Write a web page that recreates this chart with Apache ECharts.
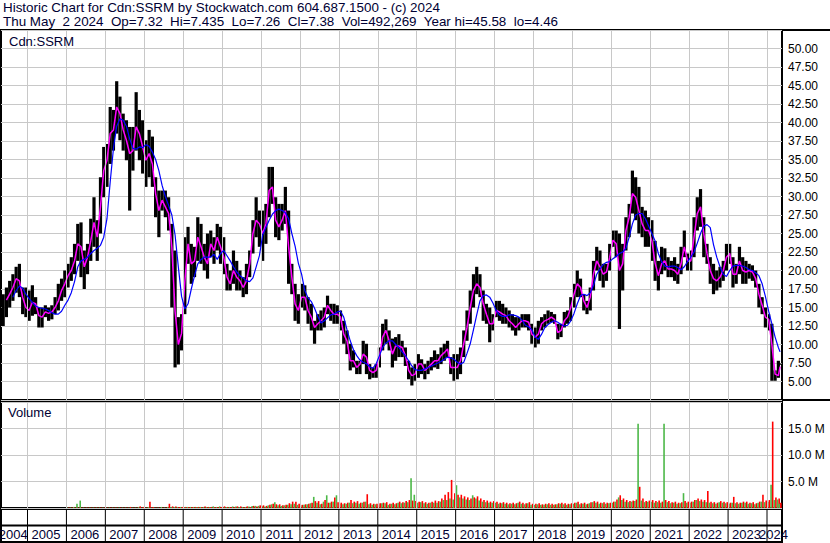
<!DOCTYPE html>
<html><head><meta charset="utf-8">
<script src="https://cdn.jsdelivr.net/npm/echarts@6/dist/echarts.min.js"></script>
<style>html,body{margin:0;padding:0;background:#fff}#c{width:830px;height:543px}#c svg text,#c svg tspan{white-space:pre}</style>
</head><body><div id="c"></div>
<script>
// ---- data (monthly, starting May 2004) ----
const startYear = 2004, startMonth = 5;
const years = [2004,2005,2006,2007,2008,2009,2010,2011,2012,2013,2014,2015,2016,2017,2018,2019,2020,2021,2022,2023,2024];
const high = [
 16.8,17.7,18.6,19.5,20.5,20.9,17.7,17.7,
 17.3,18.0,16.4,15.0,15.0,15.3,15.0,15.3,16.4,18.2,18.9,20.0,
 20.9,21.8,23.6,26.3,26.5,22.7,23.6,27.0,29.9,26.8,32.6,36.7,
 37.1,42.1,41.7,45.58,43.5,41.2,40.3,39.4,39.4,44.1,41.7,40.3,
 37.6,39.0,38.1,32.6,30.8,30.8,30.8,29.9,26.3,22.7,13.7,14.1,
 24.5,25.9,23.6,23.2,27.2,26.3,23.6,25.0,25.4,24.5,26.3,25.9,
 24.5,20.9,20.0,22.7,21.3,20.0,19.1,20.9,22.7,26.8,29.9,28.1,
 28.1,29.0,34.0,34.0,29.9,29.0,29.0,31.3,28.1,20.9,18.2,16.8,
 18.2,18.0,16.4,15.5,13.2,14.1,14.6,15.0,16.6,15.5,15.5,15.3,
 14.6,13.2,11.9,10.1,9.2,7.8,7.8,10.5,10.1,7.35,6.9,7.35,
 9.6,12.8,13.4,11.9,10.8,11.0,11.4,10.5,9.6,7.8,6.9,7.35,
 8.7,8.0,7.35,7.8,8.3,9.2,8.7,9.6,10.1,10.5,8.3,8.7,
 8.7,9.6,11.9,14.6,17.3,19.5,20.5,19.5,17.3,15.5,15.0,14.1,
 15.9,15.9,15.5,15.0,14.6,14.1,13.7,13.7,14.1,14.1,14.1,12.8,
 12.3,13.2,13.7,14.1,14.6,14.4,14.1,12.8,12.8,14.4,14.6,16.4,
 18.2,20.0,18.9,16.8,15.9,17.7,21.3,23.2,22.7,20.9,20.9,23.6,
 25.4,25.4,25.0,23.6,27.2,29.0,33.5,32.6,31.3,28.6,28.1,27.2,
 26.8,24.0,21.3,23.2,23.0,21.8,21.3,21.8,20.9,23.2,25.4,22.3,
 22.7,27.2,29.9,31.0,27.2,23.6,21.8,20.9,20.0,20.5,21.3,23.6,
 23.6,21.8,20.9,23.2,21.8,21.3,20.9,20.7,20.0,18.2,16.4,15.0,
 14.1,12.8,6.5,7.8,7.435
];
const low = [
 12.5,13.7,15.0,15.9,17.0,16.4,14.1,13.7,
 13.2,13.9,14.1,12.3,12.3,13.7,13.2,13.4,14.1,14.6,15.9,16.4,
 17.7,18.6,19.5,21.3,19.1,17.5,19.5,21.3,23.2,21.3,25.0,29.9,
 31.3,34.4,36.2,38.5,37.6,36.2,34.9,28.1,33.5,36.2,34.9,33.1,
 31.3,32.6,31.3,27.2,24.5,28.1,27.2,25.4,15.0,6.9,7.3,9.2,
 14.1,20.9,18.2,19.1,21.3,20.9,20.0,18.9,21.8,20.9,22.7,20.9,
 19.5,17.3,17.3,18.2,17.3,17.3,16.4,16.8,19.1,22.3,24.5,23.2,
 21.3,23.6,27.2,29.0,24.5,24.1,25.4,26.3,18.2,16.8,13.2,12.8,
 15.0,14.6,12.8,11.9,10.1,11.9,11.9,12.3,14.1,13.2,12.8,12.8,
 11.9,10.1,8.7,6.5,6.9,6.0,6.0,7.35,6.0,5.3,5.5,5.5,
 6.9,9.2,10.1,9.2,6.9,7.8,8.3,8.3,7.1,5.3,4.46,5.1,
 5.5,6.0,5.3,6.0,6.5,6.9,6.7,7.35,7.8,8.3,6.0,5.1,
 5.3,6.0,8.3,10.5,12.8,15.0,16.8,16.4,13.2,12.8,10.3,11.9,
 13.7,13.2,12.8,12.8,12.3,11.9,11.2,11.9,12.3,12.3,11.9,10.1,
 9.6,10.1,11.9,12.3,12.8,13.0,12.8,10.7,11.0,12.3,12.8,13.2,
 15.0,16.4,16.4,14.6,14.1,14.6,17.3,20.0,18.6,17.7,18.6,20.0,
 23.2,21.8,12.1,17.3,22.7,24.5,27.7,26.8,25.0,24.5,23.2,23.2,
 21.3,18.6,17.3,19.5,20.0,19.1,19.1,18.6,18.2,19.5,21.8,20.0,
 20.0,21.8,25.4,25.9,21.8,20.9,18.2,16.8,17.3,17.7,18.6,20.0,
 20.9,17.7,18.2,19.5,18.2,18.2,18.9,18.6,17.7,15.0,14.1,12.3,
 11.9,5.1,5.1,5.5,7.26
];
const maShort = [
 null,16.0,16.8,17.7,18.9,18.6,16.4,15.0,
 14.6,15.7,15.5,13.9,13.7,14.4,14.2,14.4,15.0,15.9,17.3,18.2,
 19.3,20.0,21.3,23.6,23.2,20.5,21.8,24.0,26.5,24.5,28.6,33.5,
 34.9,38.5,39.0,42.1,41.2,39.0,37.6,35.8,36.2,39.4,38.5,36.7,
 34.9,35.8,34.4,30.4,28.1,29.5,28.6,27.7,23.2,14.5,10.0,11.5,
 18.5,23.6,20.9,21.3,24.5,23.2,21.8,20.9,23.6,22.7,24.5,23.2,
 21.8,19.1,18.2,20.0,19.1,18.6,17.7,18.6,20.9,25.0,26.8,26.3,
 25.0,26.3,30.8,31.3,26.8,25.9,26.8,28.1,23.2,19.1,15.5,14.6,
 16.4,16.4,14.6,13.7,12.3,12.8,13.2,13.7,15.3,14.6,14.1,14.1,
 13.7,11.4,10.5,7.8,7.8,6.9,7.35,8.7,8.3,6.5,6.2,6.5,
 8.3,11.0,11.9,10.5,8.7,9.8,9.8,9.6,8.5,6.5,5.8,6.0,
 7.35,7.35,6.5,6.9,7.35,7.8,7.8,8.5,8.9,9.4,6.9,6.9,
 6.9,7.8,10.1,12.3,15.0,17.3,18.2,17.7,15.5,14.1,12.8,12.8,
 14.6,14.4,14.1,13.9,13.2,12.8,12.3,12.8,13.2,13.2,13.0,11.4,
 11.0,11.4,12.8,13.2,13.4,13.7,13.4,11.6,11.9,13.2,13.7,15.0,
 16.8,18.2,17.7,15.9,15.0,16.4,19.5,21.3,20.5,19.5,19.8,21.8,
 24.1,23.6,20.0,20.9,25.4,27.2,30.4,29.9,28.1,26.3,25.4,25.4,
 24.0,21.0,19.3,20.9,21.3,20.2,20.2,20.0,19.5,20.9,23.2,21.3,
 21.3,24.5,27.7,28.6,25.0,22.3,20.0,18.9,18.6,19.1,20.0,21.8,
 22.3,19.5,19.5,21.3,20.0,19.8,20.0,19.8,18.9,16.8,15.3,13.7,
 13.4,10.0,6.0,5.8,7.0
];
const maLong = [
 null,null,null,16.4,17.3,17.9,17.6,16.8,
 16.2,15.7,15.2,15.0,14.9,14.8,14.6,14.3,14.1,14.1,14.5,15.3,
 16.0,17.0,18.5,20.5,21.3,21.5,21.8,22.3,22.7,23.0,23.4,24.5,
 27.0,32.0,36.5,39.5,40.5,40.3,39.5,37.8,36.5,36.4,36.7,36.6,
 37.0,36.8,36.0,35.0,33.5,31.5,30.0,28.8,27.5,24.8,20.5,16.5,
 14.8,15.5,17.5,19.3,20.9,21.5,21.8,21.8,21.8,22.2,21.5,22.3,
 22.7,22.0,21.3,20.5,19.8,19.3,19.0,18.6,18.5,19.0,20.5,22.0,
 24.8,25.8,26.8,27.6,28.1,28.3,28.1,27.8,27.0,25.0,23.3,21.0,
 19.5,17.3,16.3,15.8,14.9,13.8,12.9,13.2,13.6,14.0,14.1,14.4,
 14.5,13.7,12.0,10.5,9.3,8.5,7.9,7.6,7.4,7.0,6.8,7.4,
 8.5,9.6,10.2,10.5,10.5,10.0,9.6,9.0,8.5,7.8,7.1,6.6,
 6.5,6.5,6.7,6.9,7.1,7.3,7.5,7.7,8.0,8.3,8.2,8.0,
 7.6,7.35,7.6,8.8,10.1,12.0,14.0,15.9,16.6,16.7,16.4,15.6,
 14.6,14.0,13.8,13.8,14.0,14.0,13.9,13.7,13.3,12.6,12.4,12.0,
 11.0,10.7,11.4,12.3,12.7,13.0,13.2,13.0,12.7,12.5,12.6,13.2,
 14.2,15.5,16.6,16.8,16.6,17.0,18.0,19.5,20.2,20.8,21.1,21.2,
 21.6,21.9,22.3,22.5,23.0,24.5,26.3,27.5,27.7,27.7,27.0,26.0,
 25.0,24.0,22.3,21.2,20.6,20.5,20.6,20.6,20.4,20.1,20.5,21.2,
 21.8,22.5,23.7,25.0,26.0,26.2,25.8,23.5,21.8,20.5,19.5,19.2,
 20.0,20.6,20.7,20.7,20.6,20.4,20.1,20.0,19.7,19.3,18.2,16.5,
 14.5,12.8,11.0,9.6,9.0
];
// volume in millions: largest up-day (green) and down-day (red) volume per month
const volUp = [
 0,0,0,0,0,0,0,0,
 0,0,0,0,0,0,0,0,0,0,0,0,
 0.1,0.1,0.2,0.8,1.4,0.1,0.1,0.1,0.1,0.1,0.1,0.1,
 0.1,0.1,0.1,0.1,0.1,0.1,0.1,0.1,0.1,0.1,0.2,0.1,
 0.1,0.2,0.1,0.1,0.1,0.2,0.1,0.2,0.2,0.2,0.2,0.2,
 0.2,0.2,0.2,0.2,0.2,0.2,0.2,0.2,0.2,0.3,0.2,0.3,
 0.2,0.2,0.2,0.3,0.3,0.2,0.2,0.2,0.3,0.4,0.4,0.4,
 0.4,0.3,0.5,0.7,1.1,0.5,0.4,0.5,0.6,0.7,0.8,0.6,
 0.5,0.6,0.7,0.9,2.1,1.0,0.7,1.2,2.4,1.0,1.2,2.4,
 0.8,0.7,0.8,1.0,0.9,1.0,0.8,1.0,1.2,0.7,0.6,0.7,
 0.7,0.9,0.9,0.6,0.8,0.7,1.0,0.9,1.0,1.1,5.6,2.5,
 1.0,1.1,0.9,0.8,1.0,1.0,1.0,1.2,1.5,1.5,1.8,1.6,
 4.3,2.0,1.8,1.6,1.5,2.4,1.8,1.4,1.2,1.1,1.0,1.0,
 1.0,0.8,0.9,0.8,0.7,0.8,0.7,1.0,0.8,0.7,0.9,0.6,
 0.6,0.7,0.6,0.6,0.7,0.6,0.6,0.7,0.8,0.7,0.6,0.7,
 0.8,1.0,0.7,0.8,0.7,0.9,1.1,1.0,0.8,0.9,0.8,0.9,
 1.0,1.2,2.0,1.5,1.2,1.1,1.2,1.3,15.9,1.4,1.1,1.2,
 1.2,1.0,1.1,1.0,15.9,1.1,0.9,1.0,0.8,0.9,2.8,1.0,
 1.0,1.2,1.5,1.3,1.2,1.1,1.0,0.9,0.8,1.1,1.0,0.9,
 0.8,1.0,0.9,0.8,1.0,1.0,0.8,0.9,0.7,1.0,1.2,1.1,
 1.2,4.4,1.5,1.6,0.8
];
const volDown = [
 0,0,0,0,0,0,0,0,
 0,0,0,0,0,0,0,0,0,0,0,0,
 0.1,0.1,0.1,0.1,0.1,0.1,0.1,0.1,0.1,0.1,0.1,0.1,
 0.1,0.1,0.1,0.1,0.1,0.1,0.1,0.2,0.1,0.1,0.3,0.2,
 0.1,1.2,0.2,0.1,0.1,0.1,0.1,0.8,0.3,0.3,0.2,0.2,
 0.2,0.2,0.2,0.2,0.2,0.2,0.3,0.2,0.2,0.2,0.2,0.2,
 0.3,0.2,0.2,0.2,0.3,0.3,0.2,0.3,0.2,0.4,0.3,0.5,
 0.5,0.4,0.6,0.8,0.7,0.7,0.5,0.6,0.9,1.2,1.2,0.8,
 0.6,0.7,0.8,1.0,1.3,1.3,0.8,1.5,1.0,1.2,2.0,1.1,
 1.0,0.9,1.0,1.5,1.2,1.3,1.0,1.2,2.6,0.9,0.8,0.8,
 0.9,1.0,1.1,0.8,1.0,0.9,1.2,1.1,1.3,1.5,1.4,1.3,
 1.2,1.3,1.1,1.0,1.2,1.4,1.3,1.8,2.5,3.0,5.3,2.8,
 2.5,2.5,2.2,2.0,1.8,2.0,2.2,1.8,1.5,1.4,1.2,1.3,
 1.2,1.0,1.1,1.0,0.9,1.0,0.9,1.2,1.0,0.9,1.1,0.8,
 0.8,0.9,0.7,0.8,0.9,0.8,0.7,0.9,1.0,0.9,0.8,0.9,
 1.0,1.2,0.9,1.0,0.8,1.1,1.3,1.2,1.0,1.1,1.0,1.0,
 1.2,1.6,2.4,1.8,1.5,1.3,1.4,1.6,4.0,1.8,1.3,1.4,
 1.5,1.3,1.4,1.2,1.5,1.3,1.1,1.2,1.0,1.1,1.3,1.2,
 1.2,1.5,1.8,1.6,1.5,3.2,1.2,1.1,1.0,1.3,1.2,1.1,
 1.0,2.1,1.1,1.0,1.2,1.2,1.0,1.1,0.9,1.2,2.5,1.4,
 1.5,16.3,2.0,1.8,1.0
];
const priceTicks = {min: 2.5, max: 52.5, step: 2.5};
const volTicks = {min: 0, max: 20, step: 5};
const headerLine1 = 'Historic Chart for Cdn:SSRM by Stockwatch.com 604.687.1500 - (c) 2024';
const headerLine2 = 'Thu May  2 2024  Op=7.32  Hi=7.435  Lo=7.26  Cl=7.38  Vol=492,269  Year hi=45.58  lo=4.46';
const symbolLabel = 'Cdn:SSRM';
const volumeLabel = 'Volume';

// ---- build ----
const XMIN = 2004.319, XMAX = 2024.385, DATA_END = 2024.335;
const mx = high.map((_, i) => Math.min(startYear + (startMonth - 1 + i + 0.5) / 12, DATA_END));
const FONT = "'Liberation Sans', Arial, sans-serif";
const GRID_C = '#c8c8c8';

const chart = echarts.init(document.getElementById('c'), null, {renderer: 'svg'});
const xAx = (gi) => ({type: 'value', gridIndex: gi, min: XMIN, max: XMAX, show: false, splitLine: {show: false}});
const yearLines = years.filter(y => y > XMIN && y < XMAX).map(y => ({xAxis: y}));
const vMark = {silent: true, symbol: ['none', 'none'], label: {show: false}, animation: false,
  lineStyle: {color: GRID_C, type: 'solid', width: 1}, emphasis: {disabled: true}, data: yearLines};

const option = {
  animation: false,
  backgroundColor: '#fff',
  grid: [
    {left: 1, right: 48, top: 30, height: 370, show: true, borderColor: '#000', borderWidth: 2, backgroundColor: 'transparent'},
    {left: 1, right: 48, top: 402, height: 106, show: true, borderColor: '#000', borderWidth: 2, backgroundColor: 'transparent'},
    {left: 1, right: 48, top: 509, height: 33, show: true, borderColor: '#000', borderWidth: 2, backgroundColor: 'transparent'}
  ],
  xAxis: [xAx(0), xAx(1), xAx(2)],
  yAxis: [
    {type: 'value', gridIndex: 0, position: 'right', min: priceTicks.min, max: priceTicks.max, interval: priceTicks.step,
     axisLine: {show: false}, axisTick: {show: false},
     splitLine: {show: true, lineStyle: {color: GRID_C, width: 1}},
     axisLabel: {showMinLabel: false, showMaxLabel: false, margin: 6, color: '#000', fontSize: 12, fontFamily: FONT,
       formatter: v => v.toFixed(2)}},
    {type: 'value', gridIndex: 1, position: 'right', min: volTicks.min, max: volTicks.max, interval: volTicks.step,
     axisLine: {show: false}, axisTick: {show: false},
     splitLine: {show: true, lineStyle: {color: GRID_C, width: 1}},
     axisLabel: {showMinLabel: false, showMaxLabel: false, margin: 6, color: '#000', fontSize: 12, fontFamily: FONT,
       formatter: v => v.toFixed(1) + ' M'}},
    {type: 'value', gridIndex: 2, min: 0, max: 2, show: false, splitLine: {show: false}}
  ],
  graphic: [
    {type: 'text', left: 3, top: 1, style: {text: headerLine1, font: '13.4px ' + FONT, fill: '#000033'}},
    {type: 'text', left: 3, top: 15, style: {text: headerLine2, font: '13.4px ' + FONT, fill: '#000033'}},
    {type: 'text', left: 9, top: 35, z: 10, style: {text: symbolLabel, font: '13px ' + FONT, fill: '#000033'}},
    {type: 'text', left: 8, top: 406, z: 10, style: {text: volumeLabel, font: '13px ' + FONT, fill: '#000033'}},
    {type: 'line', shape: {x1: 782, y1: 30, x2: 830, y2: 30}, style: {stroke: '#000', lineWidth: 2}},
    {type: 'line', shape: {x1: 782, y1: 400, x2: 830, y2: 400}, style: {stroke: '#000', lineWidth: 2}}
  ],
  series: [
    {type: 'line', xAxisIndex: 0, yAxisIndex: 0, data: [], z: 1, markLine: vMark, silent: true},
    {type: 'line', xAxisIndex: 1, yAxisIndex: 1, data: [], z: 1, markLine: vMark, silent: true},
    {type: 'custom', name: 'price', xAxisIndex: 0, yAxisIndex: 0, z: 3, silent: true,
     data: mx.map((x, i) => [x, low[i], high[i]]),
     encode: {x: 0, y: [1, 2]},
     renderItem: (params, api) => {
       const p1 = api.coord([api.value(0), api.value(2)]);
       const p2 = api.coord([api.value(0), api.value(1)]);
       return {type: 'rect', shape: {x: p1[0] - 1.6, y: p1[1], width: 3.2, height: Math.max(1, p2[1] - p1[1])},
               style: {fill: '#000'}};
     }},
    {type: 'line', name: 'MA short', xAxisIndex: 0, yAxisIndex: 0, z: 4, silent: true, showSymbol: false,
     data: mx.map((x, i) => [x, maShort[i]]), lineStyle: {color: '#ff00ff', width: 1.5}},
    {type: 'line', name: 'MA long', xAxisIndex: 0, yAxisIndex: 0, z: 5, silent: true, showSymbol: false,
     data: mx.map((x, i) => [x, maLong[i]]), lineStyle: {color: '#0000ff', width: 1.2}},
    {type: 'custom', name: 'volume', xAxisIndex: 1, yAxisIndex: 1, z: 3, silent: true,
     data: mx.map((x, i) => [x, volUp[i], volDown[i]]),
     encode: {x: 0, y: [1, 2]},
     renderItem: (params, api) => {
       const x = api.value(0);
       const base = api.coord([x, 0]);
       const g = api.coord([x, api.value(1)]);
       const r = api.coord([x, api.value(2)]);
       const kids = [];
       if (api.value(1) > 0) kids.push({type: 'rect', shape: {x: base[0] - 1.6, y: g[1], width: 1.6, height: base[1] - g[1]}, style: {fill: '#4cb848'}});
       if (api.value(2) > 0) kids.push({type: 'rect', shape: {x: base[0], y: r[1], width: 1.6, height: base[1] - r[1]}, style: {fill: '#ff0000'}});
       return {type: 'group', children: kids};
     }},
    {type: 'custom', name: 'years', xAxisIndex: 2, yAxisIndex: 2, z: 3, silent: true,
     data: years.map(y => [y]),
     encode: {x: 0},
     renderItem: (params, api) => {
       const y = api.value(0);
       const cs = params.coordSys;
       const left = cs.x, right = cs.x + cs.width;
       const x0 = api.coord([y, 1])[0], x1 = api.coord([y + 1, 1])[0];
       const midY = api.coord([y, 1])[1];
       const bottomY = api.coord([y, 0])[1], topY = api.coord([y, 2])[1];
       const a = Math.max(left, x0), b = Math.min(right, x1);
       const kids = [
         {type: 'line', shape: {x1: a, y1: midY, x2: b, y2: midY}, style: {stroke: '#000', lineWidth: 2}},
         {type: 'text', x: (a + b) / 2 - 1, y: (midY + bottomY) / 2 + 0.5,
          style: {text: String(y), font: '13px ' + FONT, fill: '#000033', align: 'center', verticalAlign: 'middle'}}
       ];
       if (x0 > left + 1 && x0 < right - 1) {
         kids.push({type: 'line', shape: {x1: x0, y1: topY, x2: x0, y2: bottomY}, style: {stroke: '#000', lineWidth: 1}});
       }
       return {type: 'group', children: kids};
     }}
  ]
};
chart.setOption(option);

// keep repeated spaces in the header text
function keepSpaces() {
  document.querySelectorAll('#c svg text').forEach(t => {
    t.setAttributeNS('http://www.w3.org/XML/1998/namespace', 'xml:space', 'preserve');
    t.style.whiteSpace = 'pre';
  });
}
keepSpaces();
chart.on('finished', keepSpaces);
</script>
</body></html>
